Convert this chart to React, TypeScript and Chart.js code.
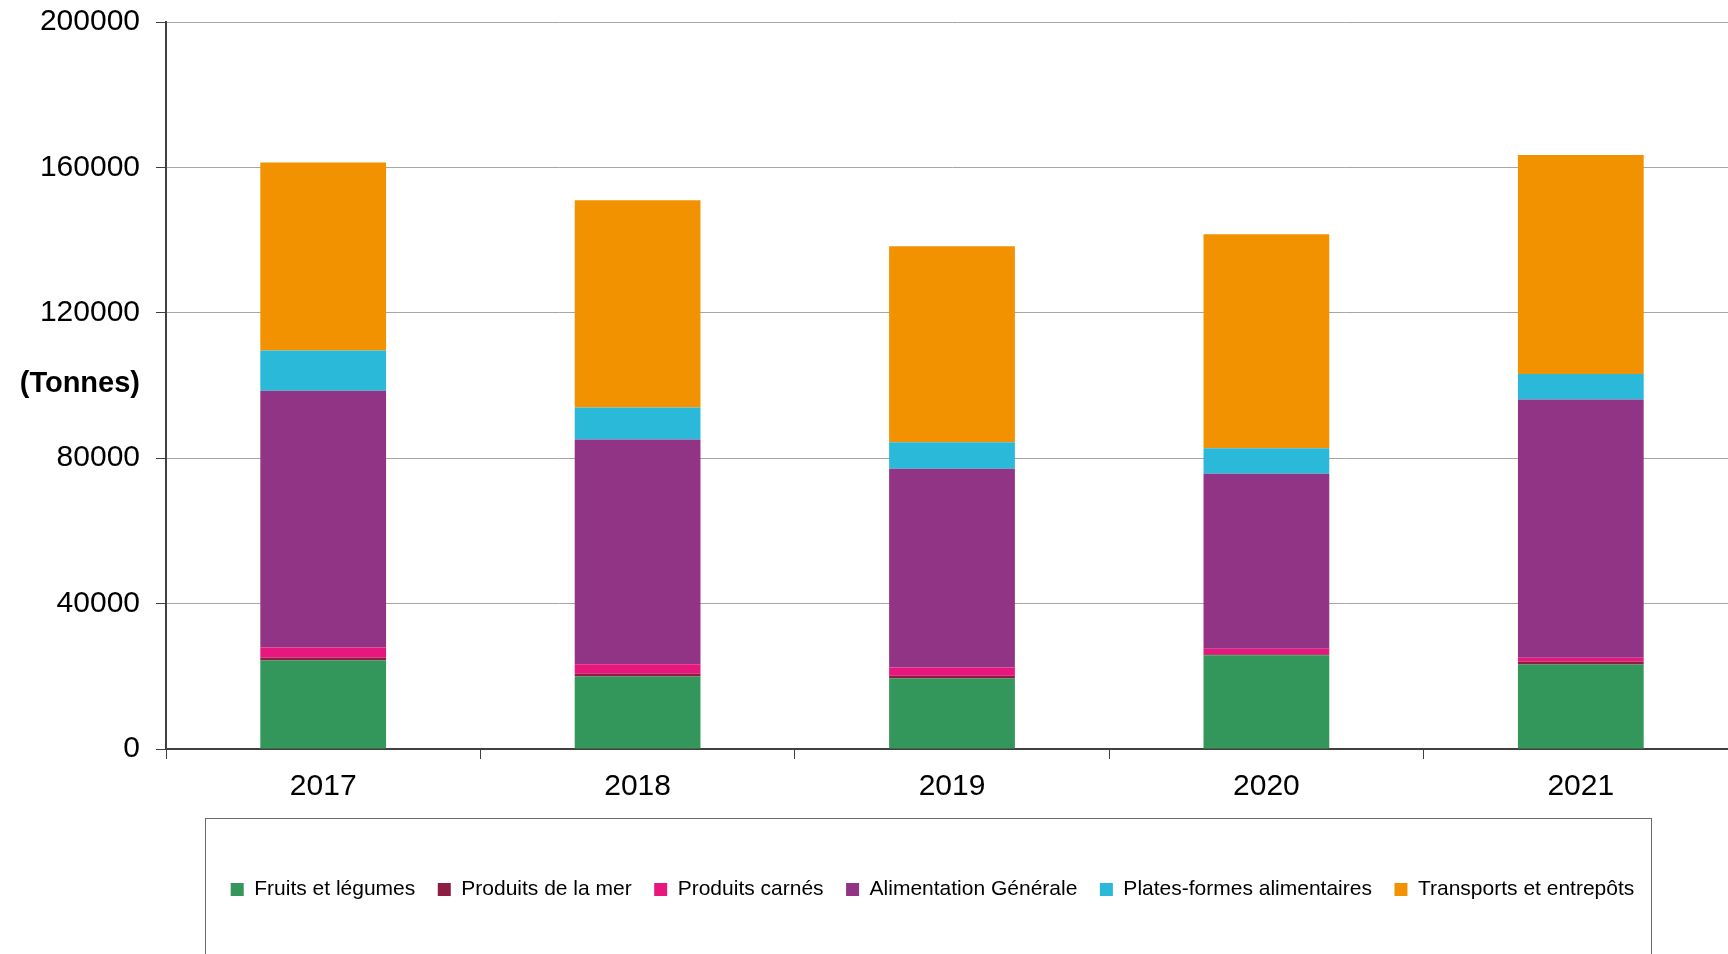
import React, { useEffect, useRef } from "react";
import { Chart, registerables } from "chart.js";

Chart.register(...registerables);

const years = ["2017", "2018", "2019", "2020", "2021"];
const fruitsLegumes = [24360, 19950, 19390, 25820, 23260];
const produitsMer = [830, 740, 750, 280, 820];
const produitsCarnes = [2760, 2650, 2290, 1490, 1020];
const alimentationGenerale = [70620, 61790, 54700, 48160, 71070];
const platesFormes = [11030, 8830, 7280, 7010, 7000];
const transports = [51780, 57020, 53880, 58840, 60220];
const yTicks = [0, 40000, 80000, 120000, 160000, 200000];

const FONT = '"Liberation Sans", Arial, sans-serif';

const extrasPlugin = {
  id: "extras",
  afterLayout(chart: any) {
    const lg = chart.legend;
    if (lg) {
      const dx = 932.5 - (lg.left + lg.right) / 2;
      lg.left += dx;
      lg.right += dx;
    }
  },
  beforeDraw(chart: any) {
    const ctx = chart.ctx;
    ctx.save();
    ctx.fillStyle = "#ffffff";
    ctx.fillRect(0, 0, chart.width, chart.height);
    ctx.strokeStyle = "#6b6b6b";
    ctx.lineWidth = 1;
    ctx.strokeRect(205.5, 818.5, 1446, 300);
    ctx.restore();
  },
  afterDraw(chart: any) {
    const ctx = chart.ctx;
    ctx.save();
    ctx.font = "bold 29px " + FONT;
    ctx.fillStyle = "#000";
    ctx.textAlign = "right";
    ctx.textBaseline = "middle";
    ctx.fillText("(Tonnes)", 140, 384);
    ctx.restore();
  },
};

export default function App() {
  const ref = useRef<HTMLCanvasElement | null>(null);

  useEffect(() => {
    if (!ref.current) return;
    const mk = (label: string, data: number[], color: string) => ({
      label,
      data,
      backgroundColor: color,
      borderWidth: 0,
      categoryPercentage: 1,
      barPercentage: 0.4,
    });
    const chart = new Chart(ref.current, {
      type: "bar",
      data: {
        labels: years,
        datasets: [
          mk("Fruits et légumes", fruitsLegumes, "#33965A"),
          mk("Produits de la mer", produitsMer, "#8D1D42"),
          mk("Produits carnés", produitsCarnes, "#E8177D"),
          mk("Alimentation Générale", alimentationGenerale, "#923486"),
          mk("Plates-formes alimentaires", platesFormes, "#2BB9DA"),
          mk("Transports et entrepôts", transports, "#F39200"),
        ],
      },
      options: {
        responsive: false,
        animation: false,
        layout: { padding: { top: 22, right: 2, bottom: 44, left: 0 } },
        plugins: {
          tooltip: { enabled: false },
          legend: {
            position: "bottom",
            labels: {
              font: { family: FONT, size: 21 },
              color: "#000",
              boxWidth: 13,
              boxHeight: 13,
              padding: 22.5,
            },
          },
        },
        scales: {
          x: {
            stacked: true,
            afterFit: (s: any) => {
              s.height = 107.5;
              s.paddingLeft = 0;
              s.paddingRight = 0;
            },
            grid: {
              drawOnChartArea: false,
              offset: true,
              tickLength: 10,
              tickColor: "#404040",
            },
            border: { color: "#404040", width: 2 },
            ticks: {
              font: { family: FONT, size: 30 },
              color: "#000",
              padding: 10,
            },
          },
          y: {
            stacked: true,
            min: 0,
            max: 200000,
            afterFit: (s: any) => {
              s.width = 166;
              s.paddingTop = 0;
              s.paddingBottom = 0;
            },
            afterBuildTicks: (s: any) => {
              s.ticks = yTicks.map((v) => ({ value: v }));
            },
            grid: {
              color: "#a6a6a6",
              lineWidth: 1,
              tickLength: 10,
              tickColor: "#404040",
            },
            border: { color: "#404040", width: 2 },
            ticks: {
              font: { family: FONT, size: 30 },
              color: "#000",
              padding: 16,
              callback: (v: any) => String(v),
            },
          },
        },
      },
      plugins: [extrasPlugin],
    });
    return () => chart.destroy();
  }, []);

  return (
    <div
      style={{
        position: "fixed",
        left: 0,
        top: 0,
        width: 1728,
        height: 954,
        overflow: "hidden",
        background: "#fff",
      }}
    >
      <canvas ref={ref} width={1740} height={954} style={{ display: "block" }} />
    </div>
  );
}
